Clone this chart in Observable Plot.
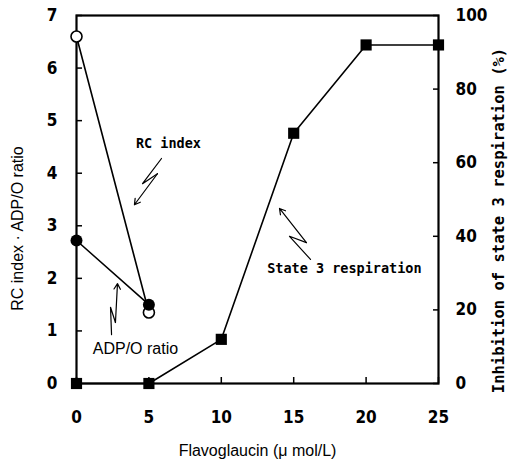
<!DOCTYPE html>
<html>
<head>
<meta charset="utf-8">
<script src="https://cdn.jsdelivr.net/npm/d3@7"></script>
<script src="https://cdn.jsdelivr.net/npm/@observablehq/plot@0.6"></script>
<style>
  html, body { margin: 0; padding: 0; background: #fff; }
  #chart svg { display: block; }
  #chart g[aria-label$="tick label"] text {
    font-family: 'Liberation Sans Narrow', 'DejaVu Sans Condensed', 'Liberation Sans', sans-serif;
    font-stretch: condensed;
    font-weight: bold;
    font-size: 17px;
  }
</style>
</head>
<body>
<div id="chart"></div>
<script>
// ---- data ----
const concX = [0, 5];                       // Flavoglaucin (µmol/L)
const rcIndex = [6.6, 1.35];                // RC index (left axis)
const adpO = [2.72, 1.5];                   // ADP/O ratio (left axis)
const state3X = [0, 5, 10, 15, 20, 25];
const state3Inhib = [0, 0, 12, 68, 92, 92]; // % inhibition (right axis)
const xTicks = [0, 5, 10, 15, 20, 25];
const leftTicks = [0, 1, 2, 3, 4, 5, 6, 7];
const rightTicks = [0, 20, 40, 60, 80, 100];

// annotation squiggle arrows (data units)
const rcArrowX = [5.87, 4.56, 5.59, 4.0];
const rcArrowY = [4.28, 3.80, 3.99, 3.40];
const adpArrowX = [2.42, 2.35, 2.69, 2.83];
const adpArrowY = [0.93, 1.45, 1.16, 1.90];
const s3ArrowX = [16.16, 14.71, 15.88, 14.02];
const s3ArrowY = [2.36, 2.80, 2.68, 3.33];

const labels = [
  {text: "RC index", x: 6.35, y: 4.56, mono: true},
  {text: "ADP/O ratio", x: 4.07, y: 0.65, mono: false},
  {text: "State 3 respiration", x: 18.5, y: 2.19, mono: true}
];

const k = 7 / 100; // right-axis units -> left-axis units

const rc = concX.map((x, i) => ({x, y: rcIndex[i]}));
const adp = concX.map((x, i) => ({x, y: adpO[i]}));
const s3 = state3X.map((x, i) => ({x, y: state3Inhib[i] * k}));
const mk = (xs, ys) => xs.map((x, i) => ({x, y: ys[i]}));
const arrows = [mk(rcArrowX, rcArrowY), mk(adpArrowX, adpArrowY), mk(s3ArrowX, s3ArrowY)];

const tickFont = {fontWeight: "bold", fontSize: 17};
const mono = "'DejaVu Sans Mono', 'Liberation Mono', monospace";
const sans = "'Liberation Sans', Arial, sans-serif";

const marks = [
  Plot.frame({stroke: "#000", strokeWidth: 2.2}),
  Plot.axisX(xTicks, {anchor: "bottom", tickSize: -6, tickPadding: 33, ...tickFont, label: null, strokeWidth: 1.5, tickFormat: d => String(d)}),
  Plot.axisY(leftTicks, {anchor: "left", tickSize: -6, tickPadding: 25, ...tickFont, label: null, strokeWidth: 1.5, tickFormat: d => String(d)}),
  Plot.axisY(rightTicks.map(v => v * k), {anchor: "right", tickSize: -6, tickPadding: 23, ...tickFont, label: null, strokeWidth: 1.5,
    tickFormat: d => String(Math.round(d / k))}),
  // axis titles
  Plot.text(["Flavoglaucin (\u03bc mol/L)"], {frameAnchor: "bottom", textAnchor: "middle", dy: 72, fontFamily: sans, fontSize: 16, letterSpacing: 0.7, fill: "#000"}),
  Plot.text(["RC index \u00b7 ADP/O ratio"], {frameAnchor: "left", textAnchor: "middle", dx: -59, dy: 29, rotate: -90, fontFamily: sans, fontSize: 16, letterSpacing: 0.8, fill: "#000"}),
  Plot.text(["Inhibition of state 3 respiration (%)"], {frameAnchor: "right", textAnchor: "middle", dx: 61, dy: 21, rotate: -90, fontFamily: mono, fontWeight: "bold", fontSize: 15.5, fill: "#000"}),
  // State 3 series
  Plot.line(s3, {x: "x", y: "y", stroke: "#000", strokeWidth: 1.6}),
  Plot.dot(s3, {x: "x", y: "y", symbol: "square", r: 6.3, fill: "#000", stroke: "none"}),
  // RC index
  Plot.line(rc, {x: "x", y: "y", stroke: "#000", strokeWidth: 1.6}),
  Plot.dot(rc, {x: "x", y: "y", r: 5.5, fill: "#fff", stroke: "#000", strokeWidth: 1.6}),
  // ADP/O
  Plot.line(adp, {x: "x", y: "y", stroke: "#000", strokeWidth: 1.6}),
  Plot.dot(adp, {x: "x", y: "y", r: 6, fill: "#000", stroke: "none"}),
  // annotations
  ...arrows.map(a => Plot.line(a.slice(0, 3), {x: "x", y: "y", stroke: "#000", strokeWidth: 1.2})),
  ...arrows.map(a => Plot.arrow([{x1: a[2].x, y1: a[2].y, x2: a[3].x, y2: a[3].y}], {x1: "x1", y1: "y1", x2: "x2", y2: "y2", stroke: "#000", strokeWidth: 1.2, headLength: 8})),
  Plot.text(labels.filter(d => d.mono), {x: "x", y: "y", text: "text", fontFamily: mono, fontWeight: "bold", fontSize: 13.5, letterSpacing: 0.4, fill: "#000"}),
  Plot.text(labels.filter(d => !d.mono), {x: "x", y: "y", text: "text", fontFamily: sans, fontSize: 16, letterSpacing: 0.6, fill: "#000"})
];

const chart = Plot.plot({
  width: 511,
  height: 461,
  marginLeft: 76,
  marginRight: 73,
  marginTop: 15,
  marginBottom: 78,
  x: {domain: [0, 25], axis: null},
  y: {domain: [0, 7], axis: null},
  style: {background: "#fff", color: "#000", overflow: "visible"},
  marks
});
document.getElementById("chart").appendChild(chart);
</script>
</body>
</html>
